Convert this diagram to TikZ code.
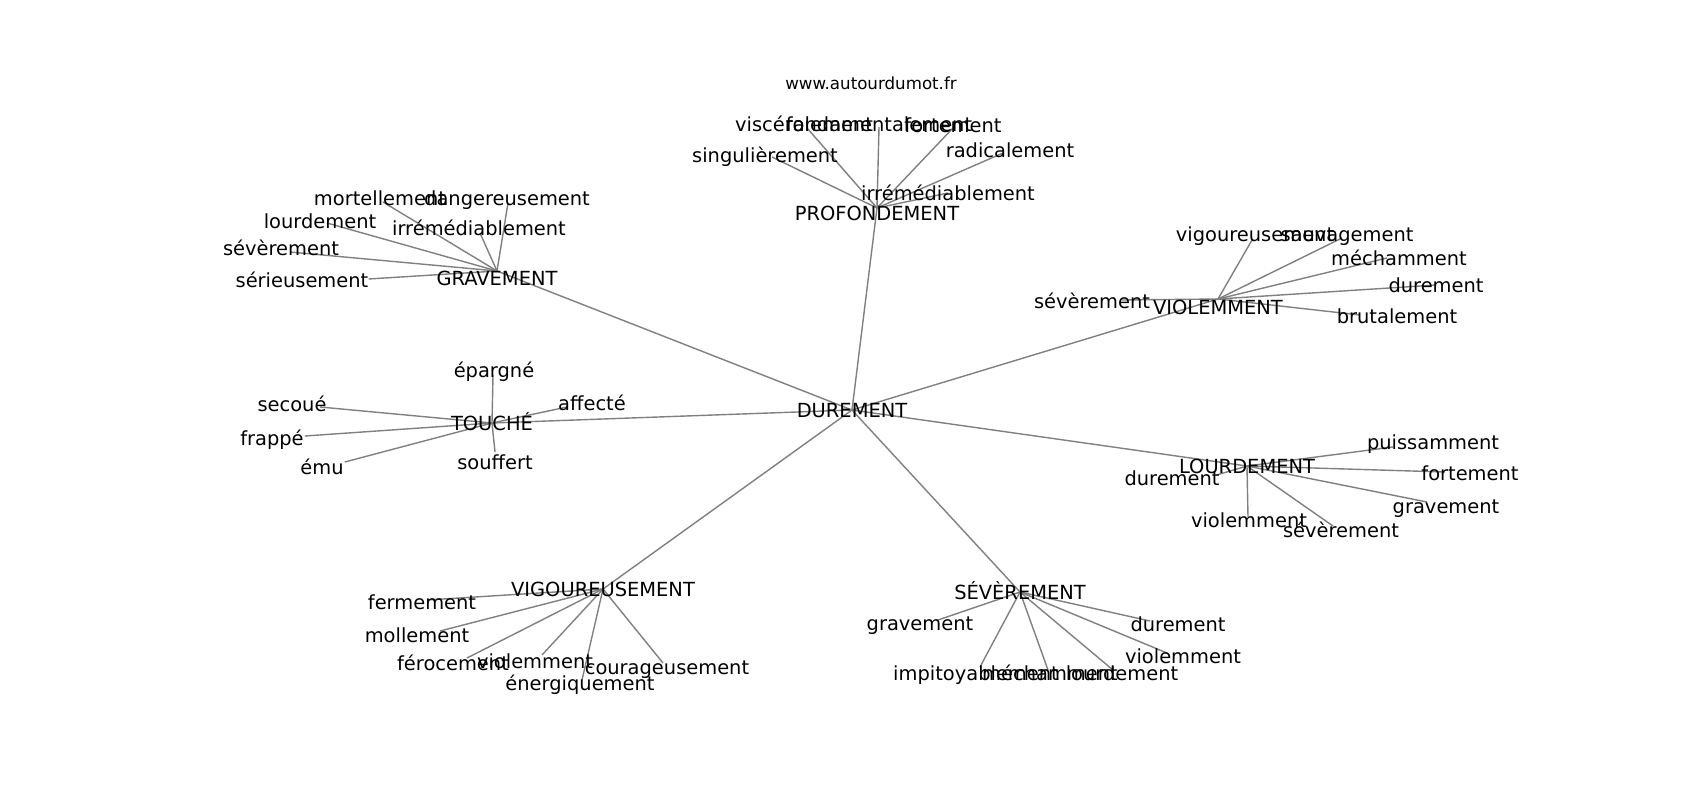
\documentclass[tikz,border=0pt]{standalone}
\usepackage{fontspec}
\setmainfont{DejaVu Sans}
\pgfdeclarelayer{bg}
\pgfsetlayers{bg,main}
\newcommand\lblfont{\fontsize{19.44}{23}\selectfont}
\newcommand\ttlfont{\fontsize{16.67}{20}\selectfont}
\begin{document}
\begin{tikzpicture}[x=1pt,y=-1pt,
  lab/.style={inner sep=0pt,font=\lblfont,text height=19.6pt,text depth=4.6pt},
  ttl/.style={inner sep=0pt,font=\ttlfont},
  edge/.style={draw=gray,line width=1.4pt}]
\useasboundingbox (0,0) rectangle (1700,800);
% title
\node[ttl] (title) at (871,83) {www.autourdumot.fr};
% hubs
\node[lab] (dur) at (852,410) {DUREMENT};
\node[lab,text height=29.6pt] (prof) at (877,208) {PROFONDEMENT};
\node[lab,text height=33.6pt] (grav) at (497,271) {GRAVEMENT};
\node[lab,text height=35.6pt] (viol) at (1218,299) {VIOLEMMENT};
\node[lab] (touche) at (492,423) {TOUCHÉ};
\node[lab] (lourd) at (1247,466) {LOURDEMENT};
\node[lab] (vig) at (603,589) {VIGOUREUSEMENT};
\node[lab] (sev) at (1020,592) {SÉVÈREMENT};
% PROFONDEMENT leaves
\node[lab] (p1) at (804,124) {viscéralement};
\node[lab] (p2) at (879,124) {fondamentalement};
\node[lab] (p3) at (953,125) {fortement};
\node[lab] (p4) at (1010,150) {radicalement};
\node[lab] (p5) at (765,155) {singulièrement};
\node[lab] (p6) at (948,193) {irrémédiablement};
% GRAVEMENT leaves
\node[lab] (g1) at (380,198) {mortellement};
\node[lab] (g2) at (507,198) {dangereusement};
\node[lab] (g3) at (320,221) {lourdement};
\node[lab] (g4) at (479,228) {irrémédiablement};
\node[lab] (g5) at (281,248) {sévèrement};
\node[lab] (g6) at (302,280) {sérieusement};
% VIOLEMMENT leaves
\node[lab] (v1) at (1255,234) {vigoureusement};
\node[lab] (v2) at (1347,234) {sauvagement};
\node[lab] (v3) at (1399,258) {méchamment};
\node[lab] (v4) at (1436,285) {durement};
\node[lab] (v5) at (1397,316) {brutalement};
\node[lab] (v6) at (1092,301) {sévèrement};
% TOUCHE leaves
\node[lab] (t1) at (494,370) {épargné};
\node[lab] (t2) at (592,403) {affecté};
\node[lab] (t3) at (292,404) {secoué};
\node[lab] (t4) at (272,438) {frappé};
\node[lab] (t5) at (322,467) {ému};
\node[lab] (t6) at (495,462) {souffert};
% LOURDEMENT leaves
\node[lab] (l1) at (1433,442) {puissamment};
\node[lab] (l2) at (1470,473) {fortement};
\node[lab] (l3) at (1446,506) {gravement};
\node[lab] (l4) at (1341,530) {sévèrement};
\node[lab] (l5) at (1249,520) {violemment};
\node[lab] (l6) at (1172,478) {durement};
% VIGOUREUSEMENT leaves
\node[lab] (w1) at (422,602) {fermement};
\node[lab] (w2) at (417,635) {mollement};
\node[lab] (w3) at (453,663) {férocement};
\node[lab] (w4) at (535,661) {violemment};
\node[lab] (w5) at (580,683) {énergiquement};
\node[lab] (w6) at (667,667) {courageusement};
% SEVEREMENT leaves
\node[lab] (s1) at (920,623) {gravement};
\node[lab] (s2) at (1178,624) {durement};
\node[lab] (s3) at (1183,656) {violemment};
\node[lab] (s4) at (976,673) {impitoyablement};
\node[lab] (s5) at (1050,673) {méchamment};
\node[lab] (s6) at (1122,673) {lourdement};
\begin{pgfonlayer}{bg}
\fill[white] (0,0) rectangle (1700,800);
% center to hubs
\foreach \h in {prof,grav,viol,touche,lourd,vig,sev}
  \draw[edge] (dur.center) -- (\h.center);
% PROFONDEMENT
\draw[edge] (prof.center) -- ([shift={(3,4)}]p1.center);
\draw[edge] (prof.center) -- ([shift={(0,3)}]p2.center);
\draw[edge] (prof.center) -- ([shift={(0,3)}]p3.center);
\draw[edge] (prof.center) -- ([shift={(-7,3)}]p4.center);
\draw[edge] (prof.center) -- ([shift={(7,2)}]p5.center);
\draw[edge] (prof.center) -- (p6.center);
% GRAVEMENT
\draw[edge] (grav.center) -- ([shift={(3,4)}]g1.center);
\draw[edge] (grav.center) -- ([shift={(1,5)}]g2.center);
\draw[edge] (grav.center) -- ([shift={(7,2)}]g3.center);
\draw[edge] (grav.center) -- ([shift={(1,5)}]g4.center);
\draw[edge] (grav.center) -- ([shift={(9,4)}]g5.center);
\draw[edge] (grav.center) -- ([shift={(0,-1)}]g6.east);
% VIOLEMMENT
\draw[edge] (viol.center) -- ([shift={(-3,6)}]v1.center);
\draw[edge] (viol.center) -- ([shift={(-5,4)}]v2.center);
\draw[edge] (viol.center) -- ([shift={(-12,0)}]v3.center);
\draw[edge] (viol.center) -- (v4.center);
\draw[edge] (viol.center) -- ([shift={(-37,-1)}]v5.center);
\draw[edge] (viol.center) -- ([shift={(30,-1)}]v6.center);
% TOUCHE
\draw[edge] (touche.center) -- ([shift={(-1,5)}]t1.center);
\draw[edge] (touche.center) -- ([shift={(-25,4)}]t2.center);
\draw[edge] (touche.center) -- ([shift={(28,3)}]t3.center);
\draw[edge] (touche.center) -- ([shift={(1,-2)}]t4.east);
\draw[edge] (touche.center) -- ([shift={(1,-5)}]t5.east);
\draw[edge] (touche.center) -- ([shift={(0,-10)}]t6.center);
% LOURDEMENT
\draw[edge] (lourd.center) -- ([shift={(-40,5)}]l1.center);
\draw[edge] (lourd.center) -- ([shift={(-25,-1)}]l2.center);
\draw[edge] (lourd.center) -- ([shift={(-19,-4)}]l3.center);
\draw[edge] (lourd.center) -- ([shift={(-8,-4)}]l4.center);
\draw[edge] (lourd.center) -- ([shift={(-1,-3)}]l5.center);
\draw[edge] (lourd.center) -- ([shift={(-3,-3)}]l6.east);
% VIGOUREUSEMENT
\draw[edge] (vig.center) -- ([shift={(5,-2)}]w1.center);
\draw[edge] (vig.center) -- ([shift={(23,-4)}]w2.center);
\draw[edge] (vig.center) -- ([shift={(14,-5)}]w3.center);
\draw[edge] (vig.center) -- ([shift={(7,-6)}]w4.center);
\draw[edge] (vig.center) -- ([shift={(2,-3)}]w5.center);
\draw[edge] (vig.center) -- ([shift={(-4,-4)}]w6.center);
% SEVEREMENT
\draw[edge] (sev.center) -- ([shift={(18,-3)}]s1.center);
\draw[edge] (sev.center) -- ([shift={(-28,-3)}]s2.center);
\draw[edge] (sev.center) -- ([shift={(-16,-3)}]s3.center);
\draw[edge] (sev.center) -- ([shift={(4,-6)}]s4.center);
\draw[edge] (sev.center) -- ([shift={(-2,-3)}]s5.center);
\draw[edge] (sev.center) -- ([shift={(-9,-3)}]s6.center);
\end{pgfonlayer}
\end{tikzpicture}
\end{document}
